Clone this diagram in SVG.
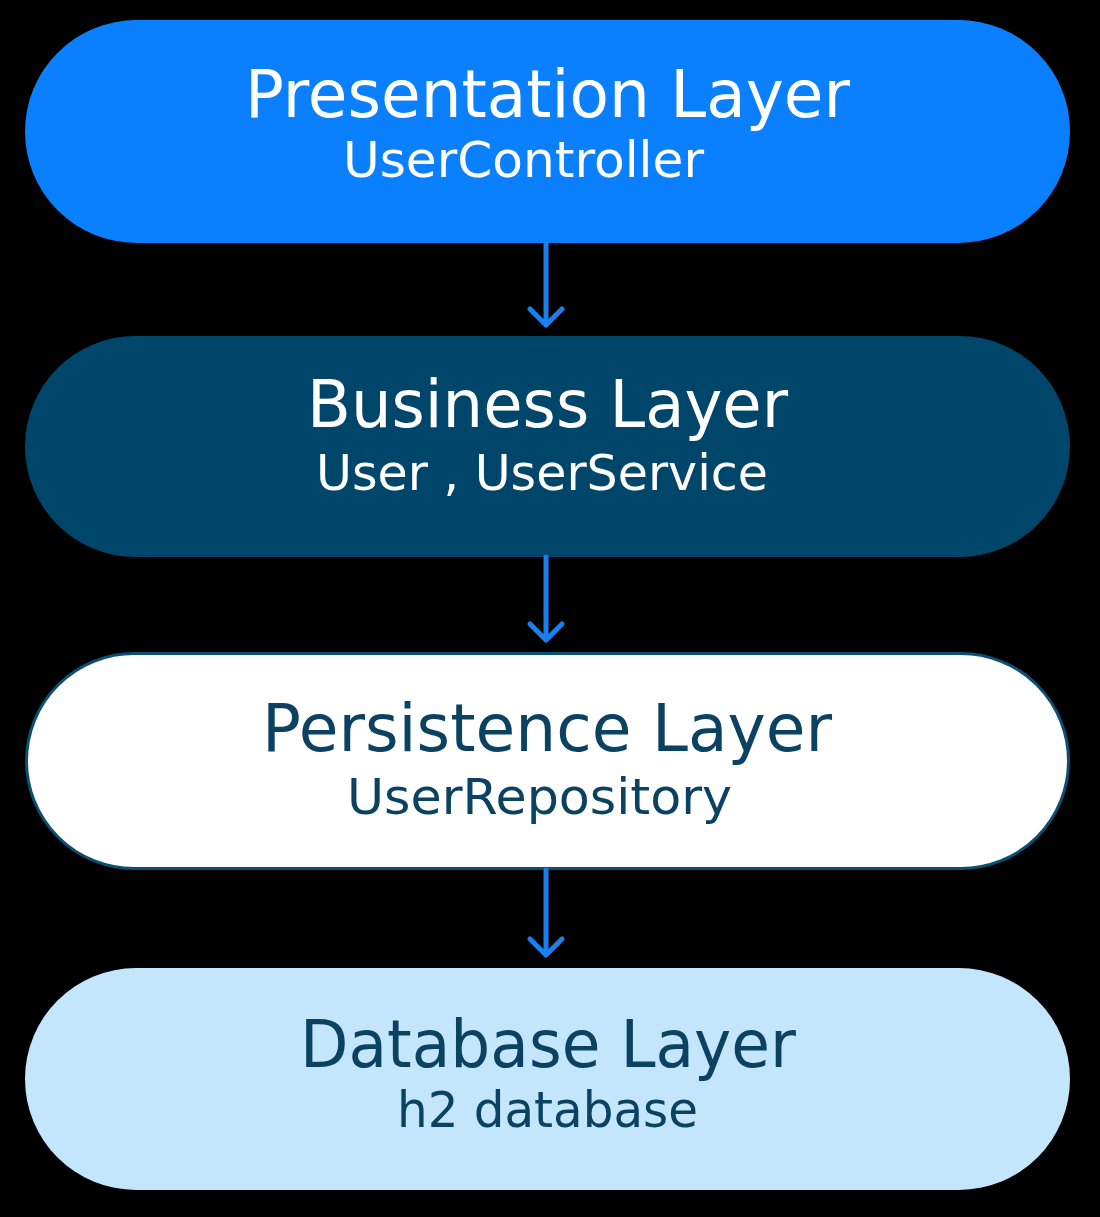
<svg xmlns="http://www.w3.org/2000/svg" width="1100" height="1217" viewBox="0 0 1100 1217">
<style>
.t{font-family:"DejaVu Sans","Liberation Sans",Arial,sans-serif;font-size:66px;text-anchor:start}
.s{font-family:"DejaVu Sans","Liberation Sans",Arial,sans-serif;font-size:49px;text-anchor:start}
.w{fill:#ffffff}
.d{fill:#0b4262}
.arrow{stroke:#1a80f0;stroke-width:5;fill:none;stroke-linecap:round;stroke-linejoin:round}
</style>
<rect x="0" y="0" width="1100" height="1217" fill="#000000"/>
<g id="presentation">
<rect x="25" y="20" width="1045" height="223" rx="111.5" fill="#0a80ff"/>
<text class="t w" x="245" y="117" textLength="605" lengthAdjust="spacingAndGlyphs">Presentation Layer</text>
<text class="s w" x="343" y="177" textLength="361" lengthAdjust="spacingAndGlyphs">UserController</text>
</g>
<g id="business">
<rect x="25" y="336" width="1045" height="221" rx="110.5" fill="#00466a"/>
<text class="t w" x="307" y="427" textLength="481" lengthAdjust="spacingAndGlyphs">Business Layer</text>
<text class="s w" x="316" y="490" textLength="452" lengthAdjust="spacingAndGlyphs">User , UserService</text>
</g>
<g id="persistence">
<rect x="26.5" y="653.5" width="1042" height="215" rx="107.5" fill="#ffffff" stroke="#0b4f73" stroke-width="3"/>
<text class="t d" x="262" y="751" textLength="570" lengthAdjust="spacingAndGlyphs">Persistence Layer</text>
<text class="s d" x="347" y="814" textLength="385" lengthAdjust="spacingAndGlyphs">UserRepository</text>
</g>
<g id="database">
<rect x="25" y="968" width="1045" height="222" rx="111" fill="#c4e6fc"/>
<text class="t d" x="300" y="1067" textLength="496" lengthAdjust="spacingAndGlyphs">Database Layer</text>
<text class="s d" x="397" y="1127" textLength="301" lengthAdjust="spacingAndGlyphs">h2 database</text>
</g>
<g id="connectors">
<path class="arrow" d="M546 243 V325 M530 309 L546 325 L562 309"/>
<path class="arrow" d="M546 557 V640 M530 624 L546 640 L562 624"/>
<path class="arrow" d="M546 870 V955 M530 939 L546 955 L562 939"/>
</g>
</svg>
